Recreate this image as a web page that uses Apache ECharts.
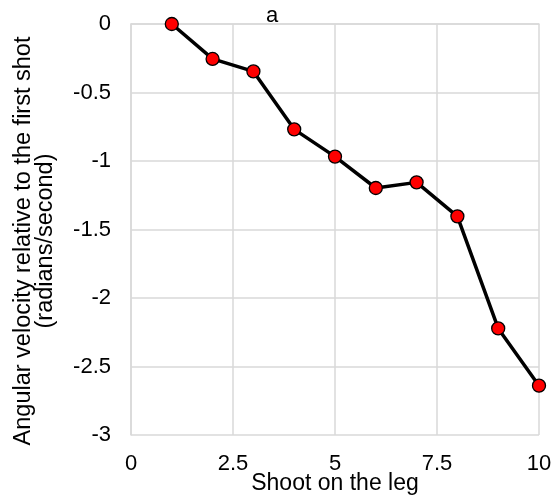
<!DOCTYPE html>
<html><head><meta charset="utf-8">
<script src="https://cdn.jsdelivr.net/npm/echarts@6/dist/echarts.min.js"></script>
<style>html,body{margin:0;padding:0;background:#fff}#c{width:554px;height:497px}</style>
</head><body><div id="c"></div>
<script>
const shots = [1, 2, 3, 4, 5, 6, 7, 8, 9, 10];
const velocity = [0, -0.255, -0.346, -0.769, -0.968, -1.197, -1.156, -1.404, -2.222, -2.64];
const titleText = 'a';
const xName = 'Shoot on the leg';
const yName = 'Angular velocity relative to the first shot\n(radians/second)';

const chart = echarts.init(document.getElementById('c'));
const font = 'Liberation Sans, Arial, sans-serif';
chart.setOption({
  animation: false,
  title: { text: titleText, left: 261, top: 0, textStyle: { fontFamily: font, fontSize: 22, fontWeight: 'normal', color: '#000' } },
  grid: { left: 131, right: 15, top: 24, bottom: 62, containLabel: false, outerBoundsMode: 'none' },
  xAxis: {
    type: 'value', min: 0, max: 10, interval: 2.5,
    name: xName, nameLocation: 'middle', nameGap: 37, nameMoveOverlap: false,
    nameTextStyle: { fontFamily: font, fontSize: 23, color: '#000' },
    axisLine: { show: true, lineStyle: { color: '#d9d9d9', width: 1.5 } },
    axisTick: { show: false },
    axisLabel: { fontFamily: font, fontSize: 22, color: '#000', margin: 18 },
    splitLine: { show: true, lineStyle: { color: '#d9d9d9', width: 1.5 } }
  },
  yAxis: {
    type: 'value', min: -3, max: 0, interval: 0.5,
    name: yName, nameLocation: 'middle', nameGap: 74, nameMoveOverlap: false,
    nameTextStyle: { fontFamily: font, fontSize: 23.5, color: '#000', lineHeight: 22, padding: [0, 23, 0, 0] },
    axisLine: { show: true, lineStyle: { color: '#d9d9d9', width: 1.5 } },
    axisTick: { show: false },
    axisLabel: { fontFamily: font, fontSize: 22, color: '#000', margin: 20 },
    splitLine: { show: true, lineStyle: { color: '#d9d9d9', width: 1.5 } }
  },
  series: [{
    type: 'line',
    data: shots.map((x, i) => [x, velocity[i]]),
    lineStyle: { color: '#000', width: 3.5 },
    symbol: 'circle', symbolSize: 13,
    itemStyle: { color: '#ff0000', borderColor: '#000', borderWidth: 1.3 },
    clip: false
  }]
});
</script></body></html>
